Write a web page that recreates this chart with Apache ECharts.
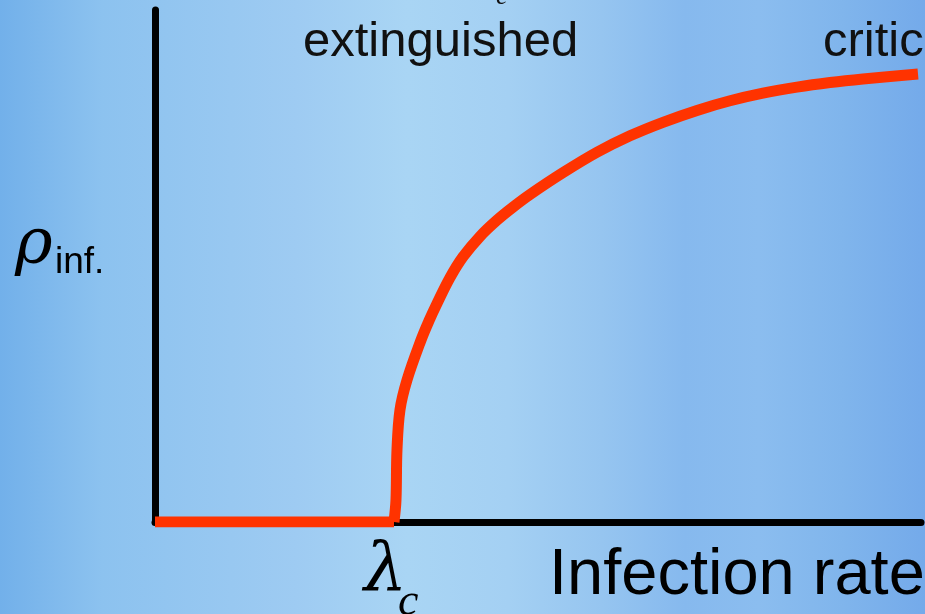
<!DOCTYPE html>
<html>
<head>
<meta charset="utf-8">
<script src="https://cdn.jsdelivr.net/npm/echarts@6/dist/echarts.min.js"></script>
<style>
  html, body { margin: 0; padding: 0; }
  body {
    width: 925px; height: 614px; overflow: hidden;
    background: linear-gradient(to right, #72b0ea 0%, #8cc2ef 11%, #9ecbf2 32%, #a9d5f4 44%, #a4d0f3 55%, #96c5f0 65%, #86b9ee 74%, #8bbdef 82%, #80b5ec 91%, #74aaea 100%);
  }
  #chart { width: 925px; height: 614px; }
</style>
</head>
<body>
<div id="chart"></div>
<script>
// rate axis runs 0..100, density axis 0..100 (no ticks shown)
const lambdaC = 31.2;
const flatPart = [[0, 0], [lambdaC, 0]];
const rateValues = [31.2, 31.46, 31.59, 31.98, 32.9, 34.73, 35.77, 36.81, 38.51, 40.21, 42.43, 44.65, 46.74, 48.96, 53.26, 57.7, 62.01, 66.32, 70.76, 75.07, 79.37, 83.81, 88.12, 92.43, 99.61];
const densityValues = [0, 4.3, 14.06, 21.88, 27.73, 35.55, 39.3, 42.66, 47.73, 51.8, 55.78, 58.95, 61.5, 63.96, 68.22, 72.21, 75.43, 78.07, 80.39, 82.27, 83.75, 84.94, 85.84, 86.54, 87.5];

const curve = rateValues.map((r, i) => [r, densityValues[i]]);

const chart = echarts.init(document.getElementById("chart"));

const hiddenAxis = {
  type: "value",
  min: 0,
  max: 100,
  axisLine: { show: true, lineStyle: { color: "#000", width: 7 } },
  axisTick: { show: false },
  axisLabel: { show: false },
  splitLine: { show: false },
};

chart.setOption({
  backgroundColor: "transparent",
  animation: false,
  grid: { left: 155, right: 4, top: 10, bottom: 92 },
  xAxis: Object.assign({}, hiddenAxis),
  yAxis: Object.assign({}, hiddenAxis),
  series: [
    {
      type: "line",
      data: flatPart,
      showSymbol: false,
      lineStyle: { color: "#ff3300", width: 11 },
    },
    {
      type: "line",
      data: curve,
      smooth: 0.35,
      showSymbol: false,
      lineStyle: { color: "#ff3300", width: 11 },
    },
  ],
  graphic: [
    {
      type: "text", left: 303, top: 18,
      style: { text: "extinguished", font: '49px "Liberation Sans"', fill: "#111" },
    },
    {
      type: "text", x: 823, y: 18,
      style: { text: "critical", font: '49px "Liberation Sans"', fill: "#111" },
    },
    {
      type: "text", x: 496, y: -16,
      style: { text: "c", font: 'italic 26px "Liberation Serif"', fill: "#111" },
    },
    {
      type: "text", left: 15, top: 214,
      style: { text: "ρ", font: 'italic 64px "DejaVu Serif"', fill: "#000" },
    },
    {
      type: "text", left: 55, top: 244,
      style: { text: "inf.", font: '37px "Liberation Sans"', fill: "#000" },
    },
    {
      type: "text", left: 364, top: 538,
      style: { text: "λ", font: 'italic 68px "DejaVu Serif"', fill: "#000" },
    },
    {
      type: "text", left: 398, top: 580,
      style: { text: "c", font: 'italic 46px "Liberation Serif"', fill: "#000" },
    },
    {
      type: "text", left: 549, top: 544,
      style: { text: "Infection rate", font: '65px "Liberation Sans"', fill: "#000" },
    },
  ],
});
</script>
</body>
</html>
